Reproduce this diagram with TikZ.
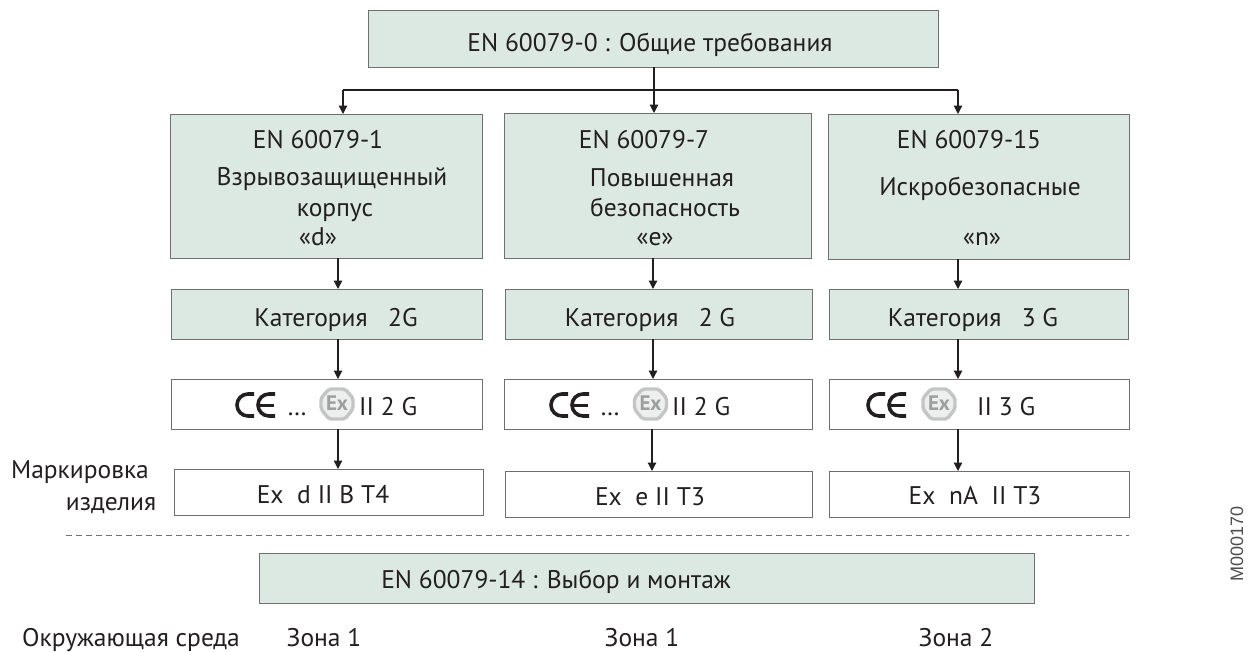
\documentclass[tikz,border=0pt]{standalone}
\usepackage{fontspec}
\setmainfont{PT Sans}
\newfontfamily\codefont{Liberation Sans}
\usetikzlibrary{arrows.meta}
\definecolor{boxgreen}{HTML}{DCE9E2}
\definecolor{boxline}{HTML}{6F6F6F}
\definecolor{txt}{HTML}{231F20}
\definecolor{exgray}{HTML}{C4C6C6}
\newcommand{\cemark}[1]{\begin{scope}[shift={(#1)},line width=3.6pt,draw=txt]
\draw (19,11) -- (13,11) arc (90:270:11) -- (19,-11);
\draw (40,11) -- (34,11) arc (90:270:11) -- (40,-11);
\draw[line width=3pt] (24,0) -- (39,0);
\end{scope}}
\newcommand{\exmark}[1]{\begin{scope}[shift={(#1)}]
\draw[exgray,line width=3.4pt,fill=exgray!30,rounded corners=2pt] (-8,-15) -- (8,-15) -- (16,-6) -- (16,5) -- (8,15) -- (-8,15) -- (-16,5) -- (-16,-6) -- cycle;
\node[exgray!80!black,font=\fontsize{21}{21}\bfseries\selectfont,inner sep=0pt] at (0,-1) {Ex};
\end{scope}}
\tikzset{
 x=1pt,y=-1pt,
 greenbox/.style={draw=boxline,line width=0.8pt,fill=boxgreen,inner sep=0pt},
 whitebox/.style={draw=boxline,line width=0.8pt,fill=white,inner sep=0pt},
 lab/.style={text=txt,inner sep=0pt,align=center,font=\fontsize{25.5}{28}\selectfont,anchor=base},
 conn/.style={draw=txt,line width=1.2pt,-{Triangle[length=8.5pt,width=8.5pt]}},
}
\newcommand{\bx}[6]{\node[#2,minimum width=#5-#3,minimum height=#6-#4,anchor=north west] (#1) at (#3,#4) {};}
\begin{document}
\begin{tikzpicture}
\useasboundingbox (0,0) rectangle (1250,651);
\bx{top}{greenbox}{368}{10}{938}{67}
\bx{a1}{greenbox}{170}{114}{482}{258}
\bx{b1}{greenbox}{504}{113}{811}{258}
\bx{c1}{greenbox}{828}{114}{1129}{259}
\bx{a2}{greenbox}{171}{289}{482}{339}
\bx{b2}{greenbox}{505}{289}{812}{339}
\bx{c2}{greenbox}{829}{289}{1128}{339}
\bx{a3}{whitebox}{171}{379}{482}{429}
\bx{b3}{whitebox}{504}{379}{812}{429}
\bx{c3}{whitebox}{829}{379}{1129}{429}
\bx{a4}{whitebox}{174}{469}{483}{515}
\bx{b4}{whitebox}{505}{471}{812}{517}
\bx{c4}{whitebox}{829}{471}{1129}{517}
\bx{sel}{greenbox}{259}{553}{1034}{603}

\coordinate (ja) at (343,90);
\coordinate (jc) at (958,90);
\draw[draw=txt,line width=1.2pt] (ja) -- (jc);
\draw[conn] (654,67) -- (654,113);
\draw[conn] (ja) -- (343,114);
\draw[conn] (jc) -- (958,114);
\draw[conn] (338,258) -- (338,289);
\draw[conn] (653,258) -- (653,289);
\draw[conn] (958,259) -- (958,289);
\draw[conn] (338,339) -- (338,379);
\draw[conn] (653,339) -- (653,379);
\draw[conn] (958,339) -- (958,379);
\draw[conn] (338,429) -- (338,469);
\draw[conn] (652,429) -- (652,471);
\draw[conn] (958,429) -- (958,471);
\draw[boxline,line width=1pt,dash pattern=on 6pt off 4pt] (66,535) -- (1129,535);

\node[lab] (t0) at (650,51) {EN 60079-0 : Общие требования};
\node[lab] (t1) at (318,148) {EN 60079-1};
\node[lab] (t2) at (332,185) {Взрывозащищенный};
\node[lab] (t3) at (335,216) {корпус};
\node[lab] (t4) at (318,245) {«d»};
\node[lab] (t5) at (644,148) {EN 60079-7};
\node[lab] (t6) at (662,186) {Повышенная};
\node[lab] (t7) at (665,216) {безопасность};
\node[lab] (t8) at (655,245) {«e»};
\node[lab] (t9) at (969,148) {EN 60079-15};
\node[lab] (t10) at (980,195) {Искробезопасные};
\node[lab] (t11) at (982,245) {«n»};
\node[lab] (t12) at (336,326) {Категория\ \ \ 2G};
\node[lab] (t13) at (650,326) {Категория\ \ \ 2 G};
\node[lab] (t14) at (973,326) {Категория\ \ \ 3 G};
\cemark{235,405}\node[lab] (t15) at (297,415) {…};
\exmark{337,404}\node[lab,anchor=base west] (t16) at (359,415) {II 2 G};
\cemark{549,405}\node[lab] (t17) at (610,415) {…};
\exmark{650.5,404}\node[lab,anchor=base west] (t18) at (672,415) {II 2 G};
\cemark{866,405}\exmark{939,404}
\node[lab,anchor=base west] (t19) at (977,415) {II 3 G};
\node[lab] (t20) at (323,503) {Ex\ \ d II B T4};
\node[lab] (t21) at (650,505) {Ex\ \ e II T3};
\node[lab] (t22) at (975,504) {Ex\ \ nA\ \ II T3};
\node[lab] (t23) at (80,478) {Маркировка};
\node[lab] (t24) at (111,510) {изделия};
\node[lab] (t25) at (556,588) {EN 60079-14 : Выбор и монтаж};
\node[lab] (t26) at (131,646) {Окружающая среда};
\node[lab] (t27) at (324,646) {Зона 1};
\node[lab] (t28) at (642,646) {Зона 1};
\node[lab] (t29) at (956,646) {Зона 2};
\node[text=txt!80,inner sep=0pt,rotate=90,font=\codefont\fontsize{18}{18}\selectfont] (t30) at (1237,544) {M000170};
\end{tikzpicture}
\end{document}
